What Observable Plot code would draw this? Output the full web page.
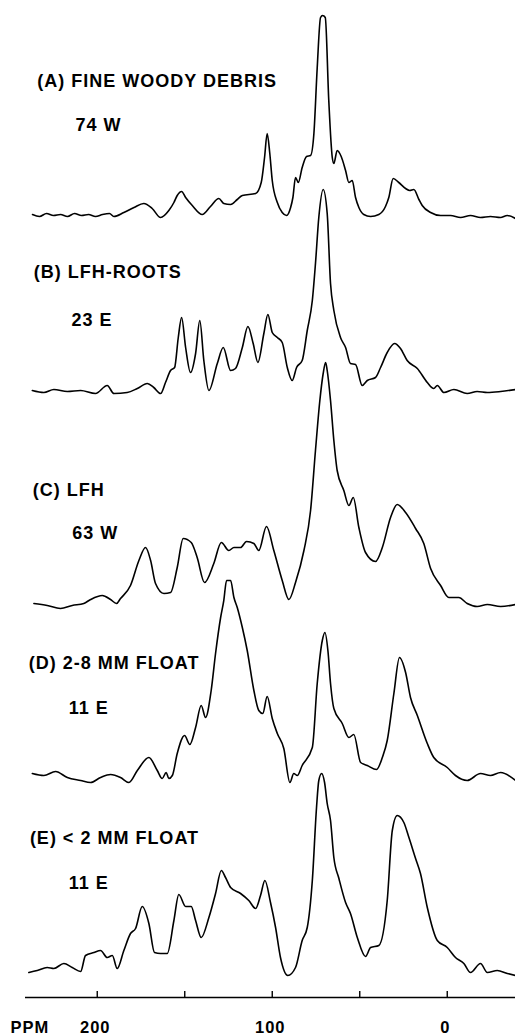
<!DOCTYPE html>
<html>
<head>
<meta charset="utf-8">
<script src="https://cdn.jsdelivr.net/npm/d3@7"></script>
<script src="https://cdn.jsdelivr.net/npm/@observablehq/plot@0.6"></script>
<style>
  html, body { margin: 0; padding: 0; background: #fff; }
  #chart svg text { letter-spacing: 1px; }
</style>
</head>
<body>
<div id="chart"></div>
<script>
// ---- Data: 13C CPMAS NMR spectra (chemical shift in ppm, relative intensity) ----
const sampleKeys = ["A", "B", "C", "D", "E"];
const sampleLabels = ["(A) FINE WOODY DEBRIS", "(B) LFH-ROOTS", "(C) LFH", "(D) 2-8 MM FLOAT", "(E) < 2 MM FLOAT"];
const sampleCodes = ["74 W", "23 E", "63 W", "11 E", "11 E"];
const tickValues = [200, 150, 100, 50, 0];
const tickLabels = [200, 100, 0];

const ppmA = [237,233,229,225,221,217,213,209,205,201,197,193,190.5,184.8,179,173.4,168.6,163.8,159.1,156.2,154.3,151.8,149.5,145.7,140,135.3,130.5,127.7,123.8,120,117.1,109.5,106.3,104.4,102.9,101.4,100,97.1,94.3,91.8,89.5,88.2,86.7,85.1,82.9,80.4,78.1,76.2,74.3,72.4,71.2,69.7,67.7,65.7,64.8,62.9,60.6,58.1,56.2,54.3,52.4,50.5,47.7,43.8,39.1,35.3,33.4,30.9,27.7,23.8,21.4,19.1,16.2,14.3,9.5,3.8,-1.9,-7.6,-13.3,-19,-24.7,-30.4,-34.3,-39];
const intA = [1,-1,2,0,1,-1,2,0,1,-1,1,2,-1,3,8,12,7,-2,5,13,20,24,18,10,1,9,17,12,11,16,20,22,33,58,82,62,35,13,3,0,8,18,38,33,48,59,60,82,148,198,200,198,115,58,52,65,59,45,33,35,18,8,1,-1,1,9,18,37,33,27,25,26,16,10,3,0,0,-2,0,-2,-1,-2,0,-3];

const ppmB = [237.1,230.5,224.8,217.1,209.5,201,194.3,190.5,182.9,177.1,171.4,167.7,163.8,161,158.1,155.8,153.7,151.8,149.5,146.7,143.8,141.4,139.1,136.2,131.4,128,123.8,121,117.1,113.9,110.9,108.2,104.8,102.5,100,97.1,94.3,91.4,88.6,86.1,82.9,80,77.1,75.3,73.4,70.9,68.6,66.7,64.8,61,58.1,55.3,52.4,48.6,45.7,41,38.1,34.3,30.1,26.7,22.9,17.1,11.4,7.7,5.7,1.9,-3.8,-11.4,-17.1,-22.9,-30.5,-39];
const intB = [1,-1,2,0,1,-2,6,-2,-1,3,8,4,-2,9,21,24,54,74,44,19,38,71,31,1,28,44,21,23,44,65,48,29,58,77,59,54,49,24,11,24,31,61,91,128,174,202,178,108,81,54,44,28,27,6,11,14,24,39,48,43,31,23,9,3,6,-1,2,-2,0,-1,0,2];

const ppmC = [236.2,228.6,221,214.3,207.7,203.8,197.1,192.4,189,186.7,181,176.2,172.4,169.5,166.7,161.9,158.1,154.3,150.9,146.3,142.9,138.7,133.4,129.1,124.8,121.9,118.1,114.7,110.5,107.7,103.3,99.1,94.3,90.5,86.7,81.9,78.1,75.3,72.8,70.9,69.5,68.6,66.7,64.8,62.9,59.1,56.2,53.7,50.5,46.7,41,37.1,32.4,28.6,23.8,18.1,13.4,9.5,3.8,-0.9,-6.6,-11.4,-17.1,-22.9,-30.5,-39];
const intC = [-1,-3,-6,-3,-1,3,7,3,-1,4,17,42,55,42,19,9,10,35,64,60,45,20,39,60,52,55,55,61,59,52,76,52,22,3,20,52,92,152,202,229,240,232,202,162,132,112,97,105,75,50,41,55,85,98,90,74,59,34,17,5,5,-1,-4,-2,-4,-2];

const ppmD = [237.1,230.5,223.8,217.1,209.5,203.8,198.1,192.4,186.7,181.9,177.1,170.5,165.7,162.9,160.6,159.1,157.1,154.3,150.1,147.1,143.8,140.6,138.1,134.9,132.4,129.5,127.7,126.1,123.8,121.9,120,117.1,114.3,110.5,107.7,105.4,102.9,100,97.1,93.4,89.9,87.7,85.7,82.9,77.1,74.3,71.4,69.9,68.2,66.7,64.8,60,56.2,53.4,49.5,45.7,40.4,37.1,34.3,30.5,27.3,23.8,21,17.1,11.4,7.7,0,-4.7,-11.4,-19,-24.7,-30.5,-39];
const intD = [2,0,4,-2,-5,-7,-2,1,-2,-7,5,18,5,-3,3,-3,0,22,40,31,48,70,58,85,122,158,175,195,195,178,168,148,125,85,65,62,79,57,42,27,-7,2,0,10,28,92,135,143,125,92,67,52,38,41,13,10,6,18,35,82,118,103,78,60,32,18,8,0,-5,2,0,3,-5];

const ppmE = [239.1,234.3,228.6,224.8,219.1,214.3,209.5,206.7,201.9,198.1,194.3,191.4,188.6,184.8,181,178.1,174.3,170.5,167.3,163.8,160,156.2,153.4,149.5,146.3,143.8,140.6,136.2,132.4,129.1,126.7,123.8,118.1,113.4,109.5,106.7,104.2,101,98.1,95.3,91.1,86.7,82.9,80,77.1,74.7,73.4,71.8,70.1,68.6,66.7,64.8,61.9,58.1,55.3,51.4,46.7,43.8,39.1,34.3,31.4,28.6,24.8,21.9,18.1,15.3,11.4,5.7,0,-4.7,-9.5,-13.3,-19,-22.9,-28.6,-34.3,-39];
const intE = [-2,0,3,2,7,3,-1,15,18,20,13,15,2,20,37,42,64,47,18,17,17,50,76,64,64,50,33,53,77,100,93,83,77,70,62,75,90,68,43,13,-5,3,30,43,90,163,190,197,188,167,150,113,92,68,57,33,14,23,25,70,140,155,148,133,112,97,63,30,23,13,7,-2,7,-2,0,-3,-5];

// ---- Layout (not data): vertical stacking of the spectra and label placement ----
const traceOffset = [755, 579, 368, 195, 0];
const labelLift = [129, 114, 107, 107, 127];
const codeLift = [85, 66, 64, 62, 82];
const labelX = [234.3, 236.3, 236.8, 239.1, 238.5];
const codeX = [212.4, 214.7, 214.3, 216.3, 216.3];

const ppmSeries = [ppmA, ppmB, ppmC, ppmD, ppmE];
const intSeries = [intA, intB, intC, intD, intE];

const points = sampleKeys.flatMap((key, i) =>
  ppmSeries[i].map((p, j) => ({sample: key, ppm: p, value: traceOffset[i] + intSeries[i][j]}))
);
const labelRows = sampleKeys.map((key, i) => ({key, label: sampleLabels[i], code: sampleCodes[i], i}));

const chart = Plot.plot({
  width: 515,
  height: 1036,
  marginLeft: 25,
  marginRight: 0,
  marginTop: 0,
  marginBottom: 39,
  style: {fontFamily: "'Liberation Sans', Arial, Helvetica, sans-serif", background: "#fff", color: "#000"},
  x: {domain: [241, -39]},
  y: {domain: [-27, 970], axis: null},
  marks: [
    Plot.line(points, {x: "ppm", y: "value", z: "sample", stroke: "#000", strokeWidth: 1.6, curve: "monotone-x"}),
    Plot.ruleY([-27], {stroke: "#000", strokeWidth: 1.4}),
    Plot.ruleX(tickValues, {x: d => d, y1: -27, y2: -21, stroke: "#000", strokeWidth: 1.4}),
    Plot.axisX({ticks: tickLabels, tickSize: 0, tickPadding: 24, fontSize: 16.5, fontWeight: "bold", dx: -2, label: null, tickFormat: d => String(d)}),
    Plot.text(["PPM"], {frameAnchor: "bottom-left", dx: -15, dy: 35.7, lineAnchor: "bottom", textAnchor: "start", fontSize: 16.5, fontWeight: "bold"}),
    Plot.text(labelRows, {x: d => labelX[d.i], y: d => traceOffset[d.i] + labelLift[d.i], text: "label", textAnchor: "start", lineAnchor: "bottom", fontSize: 18, fontWeight: "bold"}),
    Plot.text(labelRows, {x: d => codeX[d.i], y: d => traceOffset[d.i] + codeLift[d.i], text: "code", textAnchor: "start", lineAnchor: "bottom", fontSize: 18, fontWeight: "bold"})
  ]
});
document.getElementById("chart").appendChild(chart);
</script>
</body>
</html>
